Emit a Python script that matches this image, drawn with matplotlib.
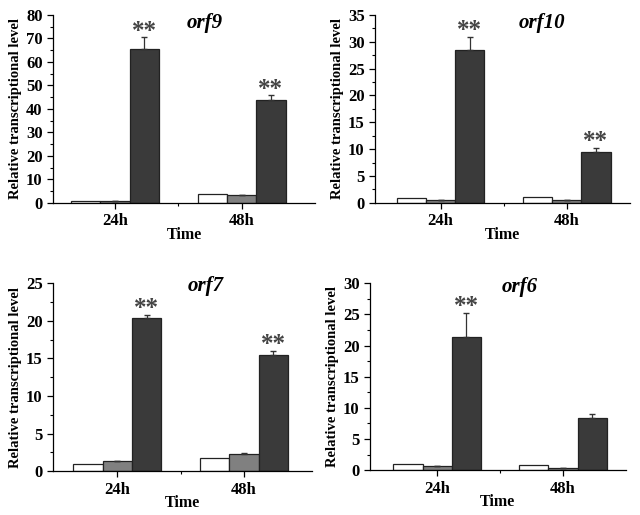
import matplotlib
matplotlib.use("Agg")
import matplotlib.pyplot as plt
from matplotlib.ticker import MultipleLocator, FixedLocator

# data
genes = ["orf9", "orf10", "orf7", "orf6"]
times = ["24h", "48h"]
white_vals = [[1.0, 4.0], [1.0, 1.1], [1.0, 1.7], [1.0, 0.9]]
grey_vals = [[0.8, 3.5], [0.6, 0.5], [1.35, 2.25], [0.75, 0.35]]
grey_err = [[0.0, 0.0], [0.0, 0.0], [0.05, 0.15], [0.0, 0.0]]
dark_vals = [[65.5, 44.0], [28.4, 9.4], [20.4, 15.5], [21.4, 8.4]]
dark_err = [[5.0, 1.8], [2.5, 0.8], [0.4, 0.5], [3.9, 0.6]]
stars = [[True, True], [True, True], [True, True], [True, False]]
y_max = [80, 35, 25, 30]
y_step = [10, 5, 5, 5]

# layout
positions = [
    [0.083, 0.606, 0.409, 0.365],
    [0.586, 0.606, 0.398, 0.365],
    [0.083, 0.085, 0.405, 0.365],
    [0.578, 0.087, 0.400, 0.363],
]
xlims = [(-0.49, 1.58), (-0.52, 1.50), (-0.506, 1.54), (-0.534, 1.50)]
title_xy = [(0.58, 0.955), (0.655, 0.955), (0.587, 0.985), (0.586, 0.98)]

plt.rcParams["font.family"] = ["Liberation Serif", "DejaVu Serif"]
plt.rcParams["font.weight"] = "bold"

fig = plt.figure(figsize=(6.4, 5.15), dpi=100)
bw = 0.232
xs = [0, 1]
for i, gene in enumerate(genes):
    ax = fig.add_axes(positions[i])
    xw = [x - bw for x in xs]
    xd = [x + bw for x in xs]
    ax.bar(xw, white_vals[i], bw, color="white", edgecolor="#222222", linewidth=0.9)
    ax.bar(xs, grey_vals[i], bw, color="#808080", edgecolor="#222222", linewidth=0.9,
           yerr=[[0, 0], grey_err[i]], error_kw=dict(ecolor="#333333", elinewidth=0.9, capsize=2))
    ax.bar(xd, dark_vals[i], bw, color="#3a3a3a", edgecolor="#222222", linewidth=0.9,
           yerr=[[0, 0], dark_err[i]], error_kw=dict(ecolor="#333333", elinewidth=0.9, capsize=2.5))
    for j in range(2):
        if stars[i][j]:
            top = dark_vals[i][j] + dark_err[i][j]
            ax.annotate("**", (xd[j], top), xytext=(0, 4.5), textcoords="offset points",
                        ha="center", va="center", fontsize=18, color="#444444")
    ax.set_xlim(*xlims[i])
    ax.set_ylim(0, y_max[i])
    ax.yaxis.set_major_locator(MultipleLocator(y_step[i]))
    ax.yaxis.set_minor_locator(MultipleLocator(y_step[i] / 2))
    ax.set_xticks(xs)
    ax.set_xticklabels(times)
    ax.xaxis.set_minor_locator(FixedLocator([0.5]))
    ax.tick_params(axis="both", which="major", direction="out", length=4, width=0.9,
                   labelsize=12)
    ax.tick_params(axis="both", which="minor", direction="out", length=2, width=0.8)
    for lab in ax.get_xticklabels() + ax.get_yticklabels():
        lab.set_fontweight("bold")
    for s in ["top", "right"]:
        ax.spines[s].set_visible(False)
    for s in ["left", "bottom"]:
        ax.spines[s].set_linewidth(0.9)
    ax.set_ylabel("Relative transcriptional level", fontsize=10.5, fontweight="bold",
                  labelpad=3)
    ax.set_xlabel("Time", fontsize=11.5, fontweight="bold", labelpad=-2)
    ax.text(title_xy[i][0], title_xy[i][1], gene, transform=ax.transAxes, ha="center",
            va="center", fontsize=15, fontweight="bold", style="italic")

fig.savefig("out.png", dpi=100)
